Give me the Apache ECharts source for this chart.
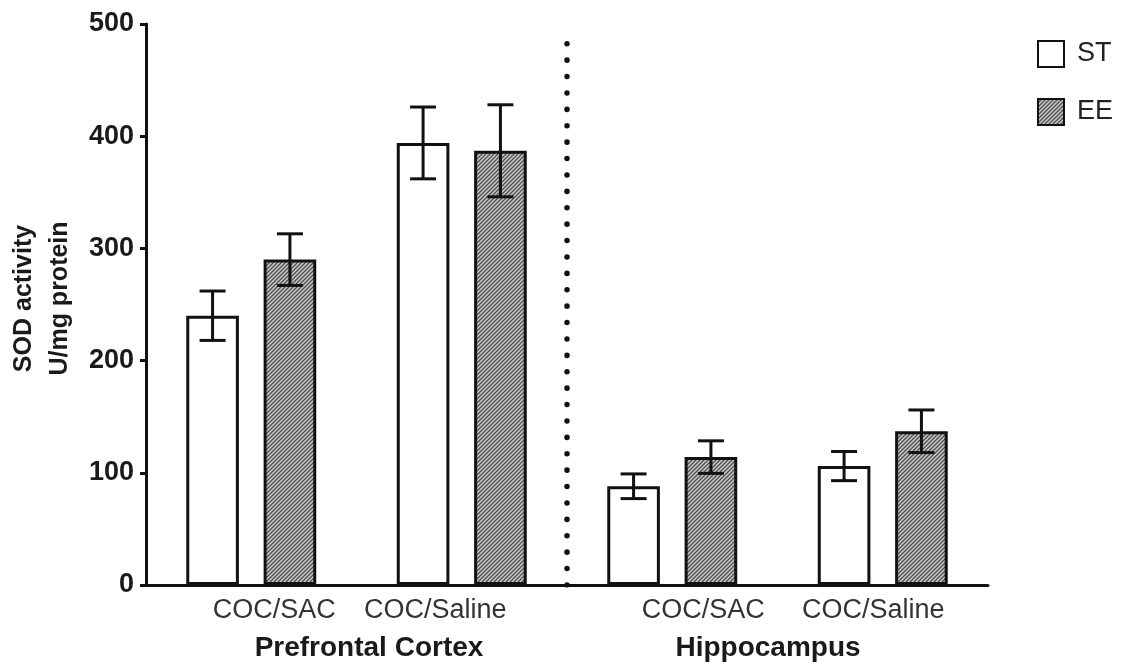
<!DOCTYPE html>
<html>
<head>
<meta charset="utf-8">
<script src="https://cdn.jsdelivr.net/npm/echarts@6/dist/echarts.min.js"></script>
<style>
html,body{margin:0;padding:0;background:#fff;}
#chart{width:1131px;height:668px;}
</style>
</head>
<body>
<div id="chart"></div>
<script>
// ---- data ----
const categories = ['COC/SAC', 'COC/Saline', 'COC/SAC', 'COC/Saline'];
const regions = ['Prefrontal Cortex', 'Hippocampus'];
const seriesNames = ['ST', 'EE'];
const stMean = [240, 394, 88, 106];
const stErr = [22, 32, 11, 13];
const eeMean = [290, 387, 114, 137];
const eeErr = [23, 41, 14.5, 19];
const yTicks = [0, 100, 200, 300, 400, 500];
const yName = ['SOD activity', 'U/mg protein'];
const divider = [[2, 0], [2, 490]]; // between the two regions, in category units

// ---- hatch pattern ----
function hatch() {
  const s = 4;
  const c = document.createElement('canvas');
  c.width = s; c.height = s;
  const g = c.getContext('2d');
  g.fillStyle = '#cdcdcd';
  g.fillRect(0, 0, s, s);
  g.strokeStyle = '#4f4f4f';
  g.lineWidth = 1.4;
  g.beginPath();
  g.moveTo(-1, s + 1); g.lineTo(s + 1, -1);
  g.moveTo(-1, 1); g.lineTo(1, -1);
  g.moveTo(s - 1, s + 1); g.lineTo(s + 1, s - 1);
  g.stroke();
  return c;
}

const BAR_FRAC = 0.25, GAP = 0.47;
const OFF = BAR_FRAC * (1 + GAP) / 2;

function errRender(sign) {
  return function (params, api) {
    const i = api.value(0);
    const lo = api.coord([i, api.value(1)]);
    const hi = api.coord([i, api.value(2)]);
    const band = api.size([1, 0])[0];
    const x = lo[0] + sign * band * OFF;
    const cap = 13;
    const st = { stroke: '#111', lineWidth: 3 };
    return {
      type: 'group',
      children: [
        { type: 'line', shape: { x1: x, y1: lo[1], x2: x, y2: hi[1] }, style: st },
        { type: 'line', shape: { x1: x - cap, y1: hi[1], x2: x + cap, y2: hi[1] }, style: st },
        { type: 'line', shape: { x1: x - cap, y1: lo[1], x2: x + cap, y2: lo[1] }, style: st }
      ]
    };
  };
}

const font = '"Liberation Sans", Arial, sans-serif';
const chart = echarts.init(document.getElementById('chart'), null, { renderer: 'canvas' });

const catPads = [[0, 0, 0, 46], [0, 53, 0, 0], [0, 0, 0, 62], [0, 19, 0, 0]];
const regPads = [[0, 0, 0, 25], [0, 19, 0, 0]];
const catRich = {}; catPads.forEach((p, i) => catRich['l' + i] = { padding: p, fontSize: 27, color: '#333', fontFamily: font });
const regRich = {}; regPads.forEach((p, i) => regRich['r' + i] = { padding: p, fontSize: 28, fontWeight: 'bold', color: '#1a1a1a', fontFamily: font });

const option = {
  animation: false,
  backgroundColor: '#fff',
  textStyle: { fontFamily: font },
  grid: { left: 146, right: 143, top: 24, bottom: 83, containLabel: false, outerBoundsMode: 'none' },
  legend: {
    data: seriesNames,
    orient: 'vertical',
    left: 1032, top: 35,
    itemWidth: 26, itemHeight: 26,
    itemGap: 30,
    icon: 'rect',
    textStyle: { fontSize: 27, color: '#222', fontFamily: font, padding: [0, 0, 0, 8] }
  },
  xAxis: [
    {
      type: 'category', data: categories, position: 'bottom',
      axisLine: { show: true, lineStyle: { color: '#111', width: 3 } },
      axisTick: { show: false },
      axisLabel: {
        interval: 0, margin: 12,
        formatter: (v, i) => '{l' + i + '|' + v + '}',
        rich: catRich
      }
    },
    {
      type: 'category', data: regions, position: 'bottom',
      axisLine: { show: false }, axisTick: { show: false },
      axisLabel: {
        interval: 0, margin: 49,
        formatter: (v, i) => '{r' + i + '|' + v + '}',
        rich: regRich
      }
    },
    { type: 'value', min: 0, max: categories.length, show: false }
  ],
  yAxis: {
    type: 'value', min: yTicks[0], max: yTicks[yTicks.length - 1], interval: 100,
    name: yName.join('\n'), nameLocation: 'middle', nameRotate: 90, nameGap: 65,
    nameTextStyle: { fontSize: 25, fontWeight: 'bold', color: '#1a1a1a', lineHeight: 36, fontFamily: font, padding: [0, 0, 0, 12] },
    axisLine: { show: true, lineStyle: { color: '#111', width: 3 } },
    axisTick: { show: true, length: 6, lineStyle: { color: '#111', width: 3 } },
    axisLabel: { margin: 12, fontSize: 27, fontWeight: 'bold', color: '#1a1a1a', fontFamily: font },
    splitLine: { show: false }
  },
  series: [
    {
      name: 'ST', type: 'bar', xAxisIndex: 0, data: stMean,
      barWidth: (BAR_FRAC * 100) + '%', barGap: (GAP * 100) + '%',
      itemStyle: { color: '#ffffff', borderColor: '#111', borderWidth: 3 }
    },
    {
      name: 'EE', type: 'bar', xAxisIndex: 0, data: eeMean,
      barWidth: (BAR_FRAC * 100) + '%', barGap: (GAP * 100) + '%',
      itemStyle: { color: { image: hatch(), repeat: 'repeat' }, borderColor: '#111', borderWidth: 3 }
    },
    {
      type: 'custom', xAxisIndex: 0, z: 10, silent: true,
      renderItem: errRender(-1),
      encode: { x: 0, y: [1, 2] },
      data: stMean.map((m, i) => [i, m - stErr[i], m + stErr[i]])
    },
    {
      type: 'custom', xAxisIndex: 0, z: 10, silent: true,
      renderItem: errRender(1),
      encode: { x: 0, y: [1, 2] },
      data: eeMean.map((m, i) => [i, m - eeErr[i], m + eeErr[i]])
    },
    {
      type: 'line', xAxisIndex: 2, data: divider, symbol: 'none', silent: true,
      lineStyle: { color: '#111', width: 5.5, type: [0.1, 16.3], cap: 'round' }
    }
  ]
};
chart.setOption(option);
</script>
</body>
</html>
